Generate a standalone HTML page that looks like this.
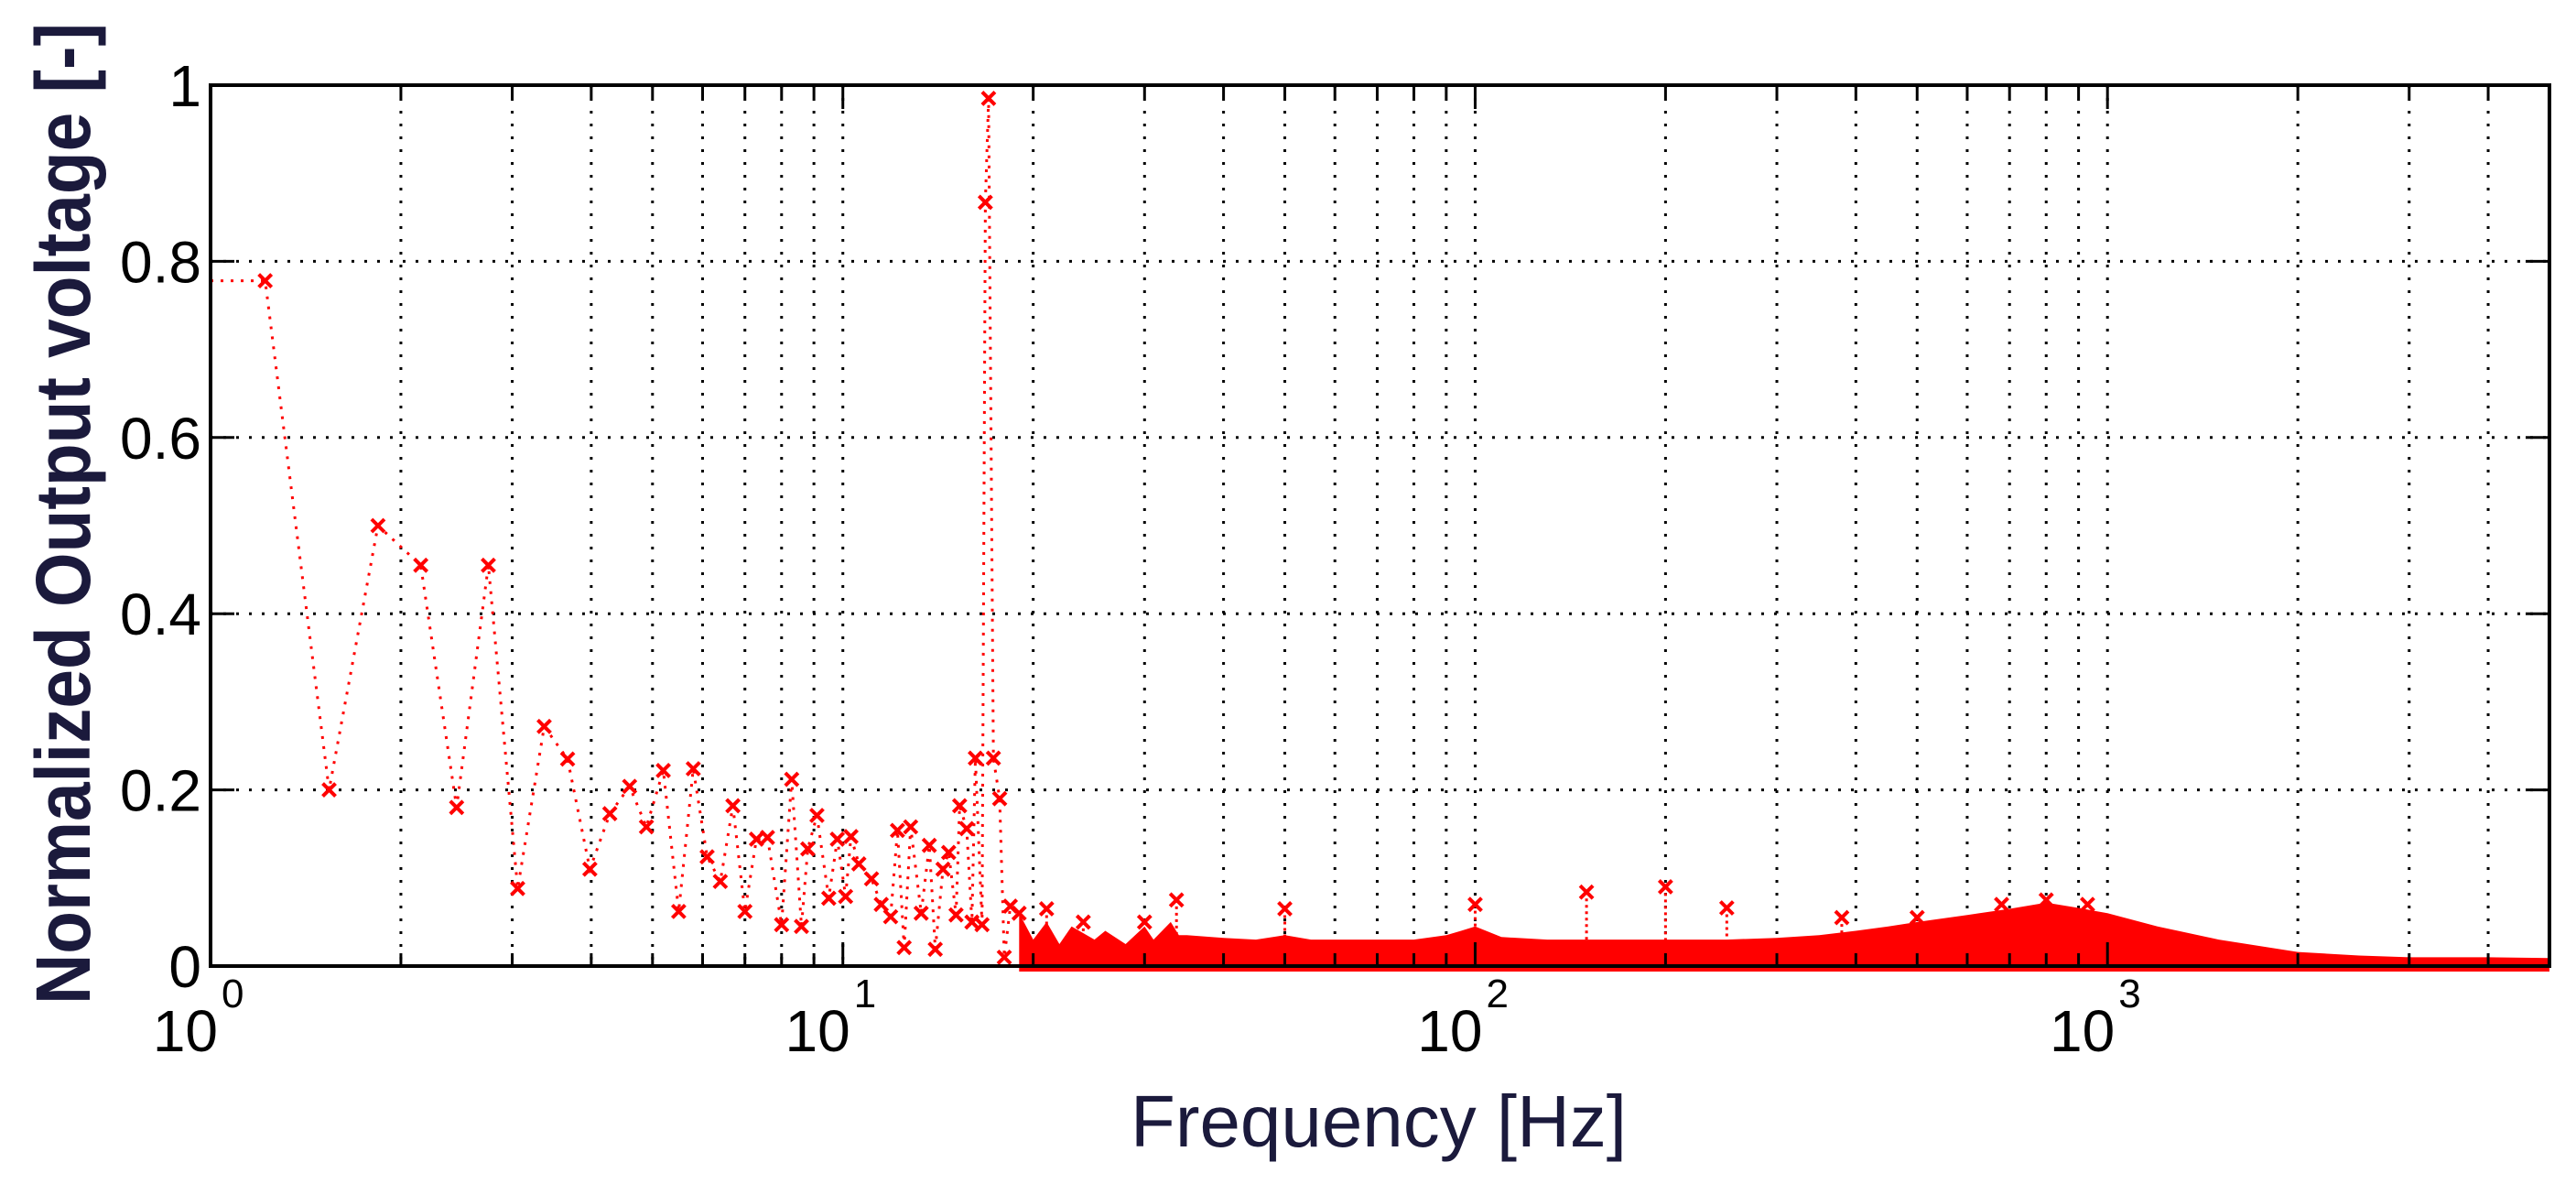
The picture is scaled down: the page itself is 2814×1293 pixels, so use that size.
<!DOCTYPE html>
<html><head><meta charset="utf-8">
<style>
html,body{margin:0;padding:0;background:#fff;}
svg{display:block;}
</style></head>
<body>
<svg id="chart" width="2814" height="1293" viewBox="0 0 2814 1293" xmlns="http://www.w3.org/2000/svg">
  <rect x="0" y="0" width="2814" height="1293" fill="#fff"/>
  <g id="grid"></g>
  <g id="series"></g>
  <g id="axes"></g>
  <text x="0" y="0" transform="translate(98,561) rotate(-90)" text-anchor="middle" font-family="Liberation Sans, Arial, sans-serif" font-size="84" font-weight="bold" fill="#1b1a3c" textLength="1072" lengthAdjust="spacingAndGlyphs">Normalized Output voltage [-]</text>
  <text x="1506" y="1252" text-anchor="middle" font-family="Liberation Sans, Arial, sans-serif" font-size="80" fill="#1b1a3c" textLength="542" lengthAdjust="spacingAndGlyphs">Frequency [Hz]</text>
</svg>
<script>
// ---- data ----
const lowFreqs = [1.0,1.22,1.54,1.84,2.15,2.45,2.75,3.06,3.37,3.67,3.98,4.28,4.6,4.89,5.2,5.5,5.8,6.1,6.4,6.7,7.0,7.3,7.6,8.0,8.3,8.6,8.8,9.1,9.5,9.8,10.1,10.3,10.6,11.1,11.5,11.9,12.2,12.5,12.8,13.3,13.7,14.0,14.4,14.7,15.1,15.3,15.7,16.0,16.2,16.6,16.8,17.0,17.3,17.7,18.0,18.4,19.0];
const lowValues = [0.778,0.778,0.20,0.50,0.455,0.18,0.455,0.088,0.272,0.235,0.11,0.173,0.204,0.158,0.222,0.062,0.224,0.124,0.096,0.182,0.062,0.144,0.146,0.047,0.212,0.045,0.133,0.171,0.077,0.144,0.079,0.147,0.116,0.099,0.07,0.056,0.154,0.021,0.158,0.06,0.137,0.019,0.11,0.129,0.058,0.182,0.156,0.05,0.236,0.047,0.867,0.985,0.236,0.19,0.01,0.068,0.06];
const bandFreqs = [19,20,21,22,23,25,26,28,30,31,33,34,35,40,45,50,55,60,70,80,90,95,100,110,130,150,200,250,300,350,400,450,500,600,700,800,900,1000,1200,1500,2000,2500,3000,4000,5000];
const bandUpper = [0.06,0.03,0.05,0.025,0.045,0.03,0.04,0.025,0.045,0.03,0.05,0.035,0.035,0.032,0.03,0.035,0.03,0.03,0.03,0.03,0.035,0.04,0.045,0.033,0.03,0.03,0.03,0.03,0.032,0.035,0.04,0.045,0.05,0.058,0.065,0.072,0.066,0.06,0.045,0.03,0.016,0.012,0.01,0.01,0.009];
const spikeFreqs = [21,24,30,33.7,50,100,150,200,250,380,500,680,800,930];
const spikeValues = [0.065,0.05,0.05,0.075,0.065,0.07,0.084,0.09,0.066,0.055,0.055,0.07,0.075,0.07];
const yTicks = [0,0.2,0.4,0.6,0.8,1];
const yTickLabels = ["0","0.2","0.4","0.6","0.8","1"];
const xDecades = [0,1,2,3];
const xMax = 5000;

// ---- axis functions ----
const L=230, R=2785, T=93, B=1055;
const logMin=0, logMax=Math.log10(xMax);
const X = f => L + (Math.log10(f)-logMin)/(logMax-logMin)*(R-L);
const Y = v => B - v*(B-T);
const NS="http://www.w3.org/2000/svg";
function mk(tag, attrs, parent){const e=document.createElementNS(NS,tag);for(const k in attrs)e.setAttribute(k,attrs[k]);parent.appendChild(e);return e;}
const grid=document.getElementById('grid'), series=document.getElementById('series'), axes=document.getElementById('axes');

for(let d=0; d<=3; d++){
  for(let m=1; m<=9; m++){
    const f=m*Math.pow(10,d);
    if(f>xMax) break;
    if(f===1) continue;
    const x=X(f);
    const gl=mk('line',{x1:x,y1:T,x2:x,y2:B,stroke:'#000','stroke-width':3,'stroke-dasharray':'3 11'},grid);
    
    
  }
}
yTicks.forEach(v=>{
  if(v===0||v===1) return;
  const gl=mk('line',{x1:L,y1:Y(v),x2:R,y2:Y(v),stroke:'#000','stroke-width':3,'stroke-dasharray':'3 11'},grid);
  
  
});

let pts=[];
bandFreqs.forEach((f,i)=>pts.push(X(f).toFixed(1)+','+Y(bandUpper[i]).toFixed(1)));
pts.push(X(bandFreqs[bandFreqs.length-1]).toFixed(1)+','+(B+6));
pts.push(X(bandFreqs[0]).toFixed(1)+','+(B+6));
const band=mk('polygon',{points:pts.join(' '),fill:'#ff0000'},series);



spikeFreqs.forEach((f,i)=>{
  const x=X(f), y=Y(spikeValues[i]);
  const sl=mk('line',{x1:x,y1:y,x2:x,y2:B,stroke:'#ff0000','stroke-width':3,'stroke-dasharray':'3 4'},series);
  
  
  const g=mk('path',{d:`M${x-7},${y-7}L${x+7},${y+7}M${x-7},${y+7}L${x+7},${y-7}`,stroke:'#ff0000','stroke-width':4},series);
  
  
});

const lp=lowFreqs.map((f,i)=>X(f).toFixed(1)+','+Y(lowValues[i]).toFixed(1)).join(' ');
const line=mk('polyline',{points:lp,fill:'none',stroke:'#ff0000','stroke-width':3,'stroke-dasharray':'3 8'},series);


lowFreqs.forEach((f,i)=>{
  if(i===0) return;
  const x=X(f), y=Y(lowValues[i]);
  const m=mk('path',{d:`M${x-7},${y-7}L${x+7},${y+7}M${x-7},${y+7}L${x+7},${y-7}`,stroke:'#ff0000','stroke-width':4},series);
  
  
});

const box=mk('rect',{x:L,y:T,width:R-L,height:B-T,fill:'none',stroke:'#000','stroke-width':4},axes);



for(let d=0; d<=3; d++){
  for(let m=1; m<=9; m++){
    const f=m*Math.pow(10,d);
    if(f>xMax) break;
    const x=X(f), len=(m===1)?26:14;
    const t1=mk('line',{x1:x,y1:B,x2:x,y2:B-len,stroke:'#000','stroke-width':3},axes);
    
    
    const t2=mk('line',{x1:x,y1:T,x2:x,y2:T+len,stroke:'#000','stroke-width':3},axes);
    
    
  }
}
xDecades.forEach(d=>{
  const x=X(Math.pow(10,d));
  const t=mk('text',{x:x+8,y:1148,'text-anchor':'end','font-family':'Liberation Sans, Arial, sans-serif','font-size':64,fill:'#000'},axes);
  t.textContent='10';
  
  
  const s=mk('text',{x:x+12,y:1100,'text-anchor':'start','font-family':'Liberation Sans, Arial, sans-serif','font-size':44,fill:'#000'},axes);
  s.textContent=String(d);
  
  
});

yTicks.forEach((v,i)=>{
  const y=Y(v);
  const a=mk('line',{x1:L,y1:y,x2:L+26,y2:y,stroke:'#000','stroke-width':3},axes);
  
  
  const b=mk('line',{x1:R,y1:y,x2:R-26,y2:y,stroke:'#000','stroke-width':3},axes);
  
  
  const t=mk('text',{x:L-10,y:y+23,'text-anchor':'end','font-family':'Liberation Sans, Arial, sans-serif','font-size':64,fill:'#000'},axes);
  t.textContent=yTickLabels[i];
  
  
});
</script>
</body></html>
